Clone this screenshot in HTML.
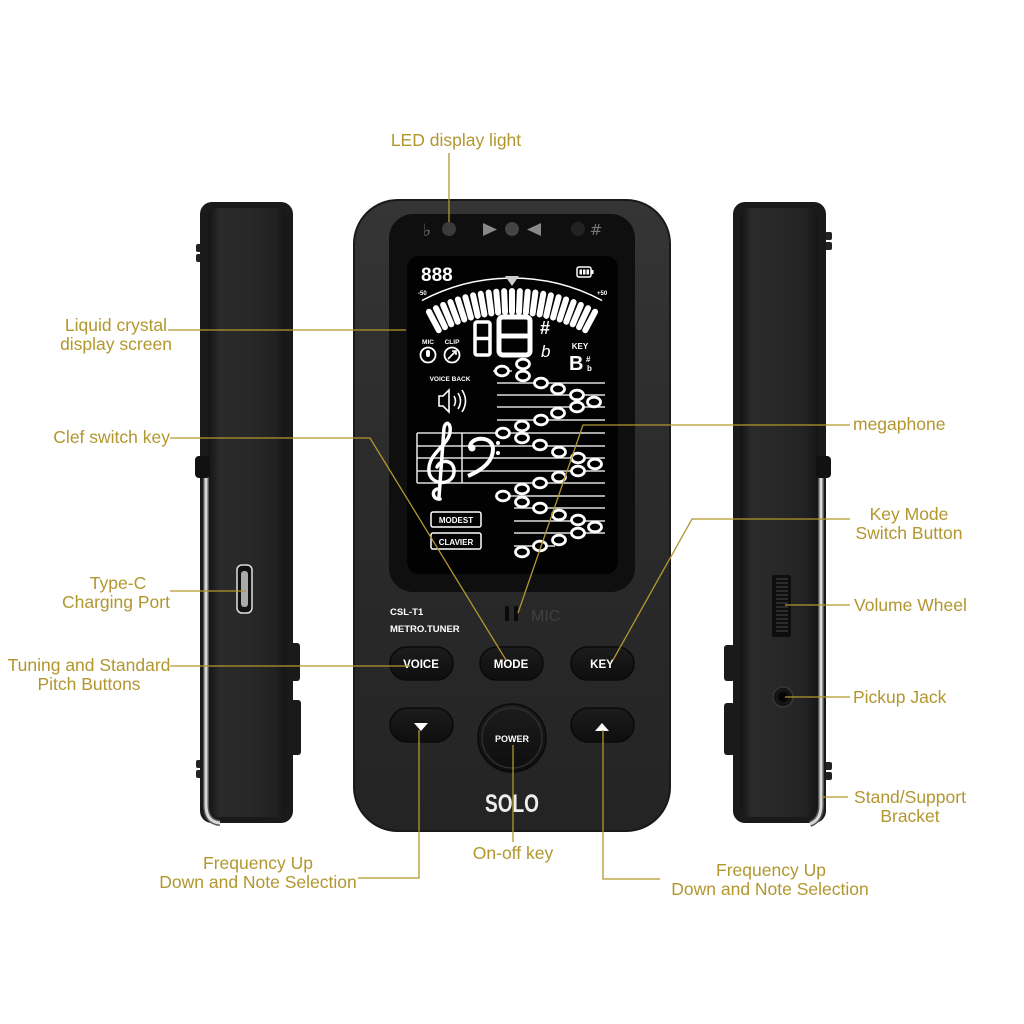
<!DOCTYPE html>
<html><head><meta charset="utf-8"><style>
html,body{margin:0;padding:0;background:#fff;}
svg{display:block;}
.lb{font-family:"Liberation Sans",sans-serif;font-size:17.5px;fill:#b2972f;}
.w{font-family:"Liberation Sans",sans-serif;font-weight:bold;fill:#fff;}
</style></head><body>
<svg width="1024" height="1024" viewBox="0 0 1024 1024" xmlns="http://www.w3.org/2000/svg">
<defs>
<linearGradient id="body" x1="0" y1="0" x2="0" y2="1">
<stop offset="0" stop-color="#353535"/><stop offset="0.45" stop-color="#2b2b2b"/><stop offset="1" stop-color="#242424"/>
</linearGradient>
<linearGradient id="sideL" x1="0" y1="0" x2="1" y2="0">
<stop offset="0" stop-color="#141414"/><stop offset="0.15" stop-color="#2a2a2a"/><stop offset="0.5" stop-color="#282828"/><stop offset="0.85" stop-color="#222"/><stop offset="1" stop-color="#151515"/>
</linearGradient>
<linearGradient id="btn" x1="0" y1="0" x2="0" y2="1">
<stop offset="0" stop-color="#1c1c1c"/><stop offset="1" stop-color="#0e0e0e"/>
</linearGradient>
</defs>
<rect width="1024" height="1024" fill="#fff"/>

<!-- LEFT SIDE DEVICE -->
<rect x="196" y="244" width="7" height="8" rx="2" fill="#222"/>
<rect x="196" y="254" width="7" height="8" rx="2" fill="#222"/>
<rect x="196" y="760" width="7" height="8" rx="2" fill="#222"/>
<rect x="196" y="770" width="7" height="8" rx="2" fill="#222"/>
<rect x="290" y="643" width="10" height="38" rx="3" fill="#1a1a1a"/>
<rect x="290" y="700" width="11" height="55" rx="3" fill="#1a1a1a"/>
<rect x="200" y="202" width="93" height="621" rx="12" fill="#1a1a1a"/>
<rect x="208" y="208" width="78" height="609" rx="9" fill="url(#sideL)"/>
<path d="M206,470 L206,805 Q206,822 220,823" stroke="#555" stroke-width="6" fill="none"/>
<path d="M206,470 L206,805 Q206,822 220,823" stroke="#d8d8d8" stroke-width="3" fill="none"/>
<rect x="195" y="456" width="15" height="22" rx="4" fill="#111"/>
<rect x="237" y="565" width="15" height="48" rx="5" fill="#111" stroke="#e0e0e0" stroke-width="1.5"/>
<rect x="241" y="571" width="7" height="36" rx="3" fill="#aaa"/>

<!-- RIGHT SIDE DEVICE -->
<rect x="825" y="232" width="7" height="8" rx="2" fill="#222"/>
<rect x="825" y="242" width="7" height="8" rx="2" fill="#222"/>
<rect x="825" y="762" width="7" height="8" rx="2" fill="#222"/>
<rect x="825" y="772" width="7" height="8" rx="2" fill="#222"/>
<rect x="724" y="645" width="11" height="36" rx="3" fill="#1a1a1a"/>
<rect x="724" y="703" width="11" height="52" rx="3" fill="#1a1a1a"/>
<rect x="733" y="202" width="93" height="621" rx="12" fill="#1a1a1a"/>
<rect x="740" y="208" width="78" height="609" rx="9" fill="url(#sideL)"/>
<path d="M821,470 L821,805 Q821,820 810,824" stroke="#555" stroke-width="6" fill="none"/>
<path d="M821,470 L821,805 Q821,820 810,824" stroke="#d8d8d8" stroke-width="3" fill="none"/>
<rect x="816" y="456" width="15" height="22" rx="4" fill="#111"/>
<rect x="772" y="575" width="19" height="62" rx="2" fill="#0e0e0e"/>
<g stroke="#4a4a4a" stroke-width="1">
<line x1="776" y1="579" x2="788" y2="579"/><line x1="776" y1="583" x2="788" y2="583"/><line x1="776" y1="587" x2="788" y2="587"/><line x1="776" y1="591" x2="788" y2="591"/><line x1="776" y1="595" x2="788" y2="595"/><line x1="776" y1="599" x2="788" y2="599"/><line x1="776" y1="603" x2="788" y2="603"/><line x1="776" y1="607" x2="788" y2="607"/><line x1="776" y1="611" x2="788" y2="611"/><line x1="776" y1="615" x2="788" y2="615"/><line x1="776" y1="619" x2="788" y2="619"/><line x1="776" y1="623" x2="788" y2="623"/><line x1="776" y1="627" x2="788" y2="627"/><line x1="776" y1="631" x2="788" y2="631"/>
</g>
<circle cx="783" cy="697" r="10" fill="#151515" stroke="#383838" stroke-width="1.5"/>
<circle cx="783" cy="697" r="5" fill="#050505"/>

<!-- MAIN DEVICE -->
<rect x="354" y="200" width="316" height="631" rx="44" fill="url(#body)" stroke="#191919" stroke-width="2"/>
<rect x="389" y="214" width="246" height="378" rx="24" fill="#0f0f0f"/>
<rect x="407" y="256" width="211" height="318" rx="12" fill="#020202"/>

<!-- top indicators -->
<text x="427" y="236" font-family="DejaVu Sans,sans-serif" font-size="17" fill="#777" text-anchor="middle">♭</text>
<circle cx="449" cy="229" r="7" fill="#3a3a3a"/>
<polygon points="483,223 497,229.5 483,236" fill="#888"/>
<circle cx="512" cy="229" r="7" fill="#444"/>
<polygon points="541,223 527,229.5 541,236" fill="#888"/>
<circle cx="578" cy="229" r="7" fill="#222"/>
<text x="596" y="235" font-family="DejaVu Sans,sans-serif" font-size="15" fill="#777" text-anchor="middle">#</text>

<!-- LCD content -->
<text x="421" y="281" class="w" font-size="19">888</text>
<rect x="577" y="267" width="14" height="10" rx="2" fill="none" stroke="#fff" stroke-width="1.5"/>
<rect x="591" y="270" width="2.5" height="4" fill="#fff"/>
<rect x="579.5" y="269.5" width="2.5" height="5" fill="#fff"/><rect x="583" y="269.5" width="2.5" height="5" fill="#fff"/><rect x="586.5" y="269.5" width="2.5" height="5" fill="#fff"/>
<path d="M421.9,300.5 A192,192 0 0,1 602.1,300.5" stroke="#fff" stroke-width="1.5" fill="none"/>
<text x="418" y="295" class="w" font-size="6">-50</text>
<text x="597" y="295" class="w" font-size="6">+50</text>
<polygon points="505,276 519,276 512,286" fill="#ccc"/>
<g stroke="#fff" stroke-width="6" stroke-linecap="round">
<line x1="512" y1="312" x2="512" y2="291" transform="rotate(-28 512 468)"/>
<line x1="512" y1="312" x2="512" y2="291" transform="rotate(-25.45 512 468)"/>
<line x1="512" y1="312" x2="512" y2="291" transform="rotate(-22.9 512 468)"/>
<line x1="512" y1="312" x2="512" y2="291" transform="rotate(-20.36 512 468)"/>
<line x1="512" y1="312" x2="512" y2="291" transform="rotate(-17.8 512 468)"/>
<line x1="512" y1="312" x2="512" y2="291" transform="rotate(-15.27 512 468)"/>
<line x1="512" y1="312" x2="512" y2="291" transform="rotate(-12.7 512 468)"/>
<line x1="512" y1="312" x2="512" y2="291" transform="rotate(-10.18 512 468)"/>
<line x1="512" y1="312" x2="512" y2="291" transform="rotate(-7.6 512 468)"/>
<line x1="512" y1="312" x2="512" y2="291" transform="rotate(-5.09 512 468)"/>
<line x1="512" y1="312" x2="512" y2="291" transform="rotate(-2.55 512 468)"/>
<line x1="512" y1="312" x2="512" y2="291"/>
<line x1="512" y1="312" x2="512" y2="291" transform="rotate(2.55 512 468)"/>
<line x1="512" y1="312" x2="512" y2="291" transform="rotate(5.09 512 468)"/>
<line x1="512" y1="312" x2="512" y2="291" transform="rotate(7.6 512 468)"/>
<line x1="512" y1="312" x2="512" y2="291" transform="rotate(10.18 512 468)"/>
<line x1="512" y1="312" x2="512" y2="291" transform="rotate(12.7 512 468)"/>
<line x1="512" y1="312" x2="512" y2="291" transform="rotate(15.27 512 468)"/>
<line x1="512" y1="312" x2="512" y2="291" transform="rotate(17.8 512 468)"/>
<line x1="512" y1="312" x2="512" y2="291" transform="rotate(20.36 512 468)"/>
<line x1="512" y1="312" x2="512" y2="291" transform="rotate(22.9 512 468)"/>
<line x1="512" y1="312" x2="512" y2="291" transform="rotate(25.45 512 468)"/>
<line x1="512" y1="312" x2="512" y2="291" transform="rotate(28 512 468)"/>
</g>
<!-- big digits -->
<g fill="none" stroke="#fff" stroke-width="3.5">
<rect x="475" y="322" width="15" height="33" rx="2"/><line x1="475" y1="338.5" x2="490" y2="338.5"/>
</g>
<g fill="none" stroke="#fff" stroke-width="5">
<rect x="499" y="317" width="31" height="38" rx="4"/><line x1="499" y1="336" x2="530" y2="336"/>
</g>
<text x="540" y="334" class="w" font-size="18">#</text>
<text x="541" y="357" font-family="Liberation Sans,sans-serif" font-style="italic" font-size="17" fill="#fff">b</text>
<!-- MIC CLIP -->
<text x="428" y="344" class="w" font-size="6.5" text-anchor="middle">MIC</text>
<text x="452" y="344" class="w" font-size="6.5" text-anchor="middle">CLIP</text>
<circle cx="428" cy="355" r="7.5" fill="none" stroke="#fff" stroke-width="1.8"/>
<rect x="426" y="350" width="4" height="7" rx="2" fill="#fff"/>
<circle cx="452" cy="355" r="7.5" fill="none" stroke="#fff" stroke-width="1.8"/>
<path d="M448,359 L456,351 M452,351 L456,351 L456,355" stroke="#fff" stroke-width="1.6" fill="none"/>
<!-- KEY -->
<text x="580" y="349" class="w" font-size="8" text-anchor="middle">KEY</text>
<text x="569" y="370" class="w" font-size="20">B</text>
<text x="586" y="362" class="w" font-size="8">#</text>
<text x="587" y="371" class="w" font-size="8">b</text>
<!-- voice back -->
<text x="450" y="381" class="w" font-size="6.5" text-anchor="middle">VOICE BACK</text>
<path d="M439,396 h4 l6,-6 v22 l-6,-6 h-4 z" stroke="#fff" stroke-width="1.6" fill="none"/>
<path d="M454,396 q3,5 0,10 M458,393 q5,8 0,16 M462,390 q7,11 0,22" stroke="#fff" stroke-width="1.6" fill="none"/>
<!-- staff lines -->
<g stroke="#ddd" stroke-width="1.6">
<line x1="493" y1="371" x2="512" y2="371"/>
<line x1="497" y1="383" x2="605" y2="383"/>
<line x1="497" y1="395" x2="605" y2="395"/>
<line x1="497" y1="407" x2="605" y2="407"/>
<line x1="497" y1="420" x2="605" y2="420"/>
<line x1="417" y1="433" x2="605" y2="433"/>
<line x1="417" y1="446" x2="605" y2="446"/>
<line x1="417" y1="458" x2="605" y2="458"/>
<line x1="417" y1="471" x2="605" y2="471"/>
<line x1="417" y1="483" x2="605" y2="483"/>
<line x1="497" y1="496" x2="605" y2="496"/>
<line x1="514" y1="508" x2="605" y2="508"/>
<line x1="514" y1="521" x2="605" y2="521"/>
<line x1="514" y1="533" x2="605" y2="533"/>
<line x1="514" y1="546" x2="555" y2="546"/>
<line x1="417" y1="433" x2="417" y2="483"/>
<line x1="462" y1="433" x2="462" y2="483"/>
</g>
<!-- clefs -->
<path d="M440,499 C433,500 431,491 437,489 M439,497 L444,428 C446,419 453,424 449,436 C445,447 427,455 429,472 C431,486 453,486 454,472 C455,460 441,458 437,467" stroke="#fff" stroke-width="3.5" fill="none" stroke-linecap="round"/>
<path d="M470,448 C469,436 493,435 493,449 C493,463 480,471 468,476" stroke="#fff" stroke-width="4" fill="none"/>
<circle cx="472" cy="448" r="3.5" fill="#fff"/>
<circle cx="498" cy="443" r="2" fill="#fff"/><circle cx="498" cy="453" r="2" fill="#fff"/>
<!-- notes -->
<g fill="#000" stroke="#fff" stroke-width="2.8">
<ellipse cx="502" cy="371" rx="6.5" ry="4.8"/><ellipse cx="523" cy="364" rx="6.5" ry="4.8"/><ellipse cx="523" cy="376" rx="6.5" ry="4.8"/>
<ellipse cx="541" cy="383" rx="6.5" ry="4.8"/><ellipse cx="558" cy="389" rx="6.5" ry="4.8"/><ellipse cx="577" cy="395" rx="6.5" ry="4.8"/>
<ellipse cx="594" cy="402" rx="6.5" ry="4.8"/><ellipse cx="577" cy="407" rx="6.5" ry="4.8"/><ellipse cx="558" cy="413" rx="6.5" ry="4.8"/>
<ellipse cx="541" cy="420" rx="6.5" ry="4.8"/><ellipse cx="522" cy="426" rx="6.5" ry="4.8"/><ellipse cx="503" cy="433" rx="6.5" ry="4.8"/>
<ellipse cx="522" cy="438" rx="6.5" ry="4.8"/><ellipse cx="540" cy="445" rx="6.5" ry="4.8"/><ellipse cx="559" cy="452" rx="6.5" ry="4.8"/>
<ellipse cx="578" cy="458" rx="6.5" ry="4.8"/><ellipse cx="595" cy="464" rx="6.5" ry="4.8"/><ellipse cx="578" cy="471" rx="6.5" ry="4.8"/>
<ellipse cx="559" cy="477" rx="6.5" ry="4.8"/><ellipse cx="540" cy="483" rx="6.5" ry="4.8"/><ellipse cx="522" cy="489" rx="6.5" ry="4.8"/>
<ellipse cx="503" cy="496" rx="6.5" ry="4.8"/><ellipse cx="522" cy="502" rx="6.5" ry="4.8"/><ellipse cx="540" cy="508" rx="6.5" ry="4.8"/>
<ellipse cx="559" cy="515" rx="6.5" ry="4.8"/><ellipse cx="578" cy="520" rx="6.5" ry="4.8"/><ellipse cx="595" cy="527" rx="6.5" ry="4.8"/>
<ellipse cx="578" cy="533" rx="6.5" ry="4.8"/><ellipse cx="559" cy="540" rx="6.5" ry="4.8"/><ellipse cx="540" cy="546" rx="6.5" ry="4.8"/>
<ellipse cx="522" cy="552" rx="6.5" ry="4.8"/>
</g>
<!-- modest clavier -->
<rect x="431" y="512" width="50" height="15" rx="2" fill="none" stroke="#fff" stroke-width="1.5"/>
<text x="456" y="523" class="w" font-size="8" text-anchor="middle">MODEST</text>
<rect x="431" y="533" width="50" height="16" rx="2" fill="none" stroke="#fff" stroke-width="1.5"/>
<text x="456" y="545" class="w" font-size="8" text-anchor="middle">CLAVIER</text>

<!-- lower panel -->
<text x="390" y="615" class="w" font-size="9.5">CSL-T1</text>
<text x="390" y="632" class="w" font-size="9.5">METRO.TUNER</text>
<rect x="505" y="606" width="4" height="15" rx="1" fill="#0a0a0a"/>
<rect x="514" y="606" width="4" height="15" rx="1" fill="#0a0a0a"/>
<text x="531" y="621" font-family="Liberation Sans,sans-serif" font-size="16" fill="#404040">MIC</text>

<g stroke="#0a0a0a" stroke-width="1.5" fill="url(#btn)">
<rect x="390" y="647" width="63" height="33" rx="16.5"/>
<rect x="480" y="647" width="63" height="33" rx="16.5"/>
<rect x="571" y="647" width="63" height="33" rx="16.5"/>
<rect x="390" y="708" width="63" height="34" rx="17"/>
<rect x="571" y="708" width="63" height="34" rx="17"/>
<circle cx="512" cy="738" r="34"/>
</g>
<circle cx="512" cy="738" r="30" fill="none" stroke="#2e2e2e" stroke-width="1.5"/>
<text x="421" y="668" class="w" font-size="11.5" text-anchor="middle">VOICE</text>
<text x="511" y="668" class="w" font-size="11.5" text-anchor="middle">MODE</text>
<text x="602" y="668" class="w" font-size="11.5" text-anchor="middle">KEY</text>
<text x="512" y="742" class="w" font-size="9" text-anchor="middle">POWER</text>
<polygon points="414,723 428,723 421,731" fill="#fff"/>
<polygon points="595,731 609,731 602,723" fill="#fff"/>
<text x="512" y="812" font-family="Liberation Sans,sans-serif" font-weight="bold" font-size="25" fill="#eee" text-anchor="middle" textLength="54" lengthAdjust="spacingAndGlyphs">SOLO</text>

<!-- LEADER LINES -->
<g stroke="#b2972f" stroke-width="1.3" fill="none">
<path d="M449,153 V222"/>
<path d="M168,330 H406"/>
<path d="M170,438 H370 L506,660"/>
<path d="M170,591 H246"/>
<path d="M170,666 H410"/>
<path d="M358,878 H419 V730"/>
<path d="M513,842 V745"/>
<path d="M660,879 H603 V730"/>
<path d="M850,425 H583 L518,613"/>
<path d="M850,519 H692 L613,660"/>
<path d="M850,605 H785"/>
<path d="M850,697 H785"/>
<path d="M848,797 H822"/>
</g>

<!-- LABELS -->
<text class="lb" x="456" y="146" text-anchor="middle">LED display light</text>
<text class="lb" x="116" y="331" text-anchor="middle">Liquid crystal</text>
<text class="lb" x="116" y="350" text-anchor="middle">display screen</text>
<text class="lb" x="170" y="443" text-anchor="end">Clef switch key</text>
<text class="lb" x="118" y="589" text-anchor="middle">Type-C</text>
<text class="lb" x="116" y="608" text-anchor="middle">Charging Port</text>
<text class="lb" x="89" y="671" text-anchor="middle">Tuning and Standard</text>
<text class="lb" x="89" y="690" text-anchor="middle">Pitch Buttons</text>
<text class="lb" x="258" y="869" text-anchor="middle">Frequency Up</text>
<text class="lb" x="258" y="888" text-anchor="middle">Down and Note Selection</text>
<text class="lb" x="513" y="859" text-anchor="middle">On-off key</text>
<text class="lb" x="771" y="876" text-anchor="middle">Frequency Up</text>
<text class="lb" x="770" y="895" text-anchor="middle">Down and Note Selection</text>
<text class="lb" x="853" y="430">megaphone</text>
<text class="lb" x="909" y="520" text-anchor="middle">Key Mode</text>
<text class="lb" x="909" y="539" text-anchor="middle">Switch Button</text>
<text class="lb" x="854" y="611">Volume Wheel</text>
<text class="lb" x="853" y="703">Pickup Jack</text>
<text class="lb" x="910" y="803" text-anchor="middle">Stand/Support</text>
<text class="lb" x="910" y="822" text-anchor="middle">Bracket</text>
</svg>
</body></html>
